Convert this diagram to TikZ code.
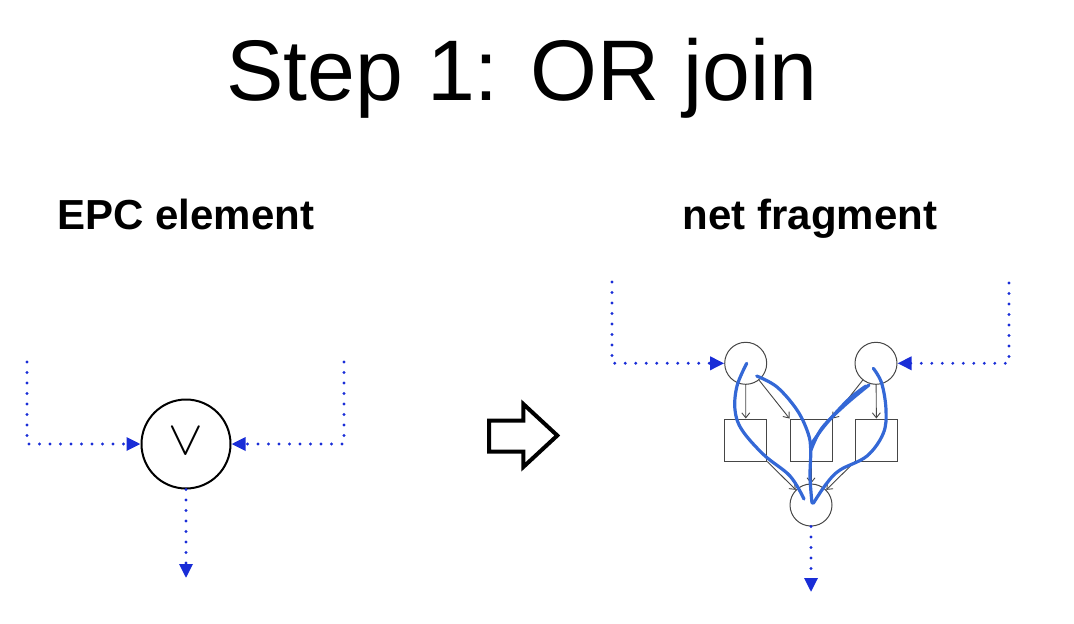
\documentclass[tikz,border=0pt]{standalone}
\usepackage{fontspec}
\usepackage{graphicx}
\setmainfont{Liberation Sans}
\usetikzlibrary{arrows.meta}
\definecolor{dotblue}{RGB}{25,45,215}
\definecolor{penblue}{RGB}{52,104,214}
\definecolor{netgray}{RGB}{70,70,70}
\tikzset{
  dotline/.style={dotblue, line width=3.2pt, line cap=round, dash pattern=on 0pt off 10.5pt,
    -{Triangle[length=14pt,width=13pt]}},
  netnode/.style={draw=netgray, line width=1pt, circle, minimum size=42pt, inner sep=0pt},
  netbox/.style={draw=netgray, line width=1pt, rectangle, minimum size=42pt, inner sep=0pt},
  netarrow/.style={netgray, line width=0.9pt, -{Straight Barb[length=5pt,width=8pt]}},
  pen/.style={penblue, line width=3.2pt, line cap=round, line join=round},
  header/.style={font=\bfseries\fontsize{42}{50}\selectfont, anchor=base}
}
\begin{document}
\begin{tikzpicture}[x=1pt,y=-1pt]
\useasboundingbox (0,0) rectangle (1074,624);
% title
\node[anchor=base, font=\fontsize{86}{100}\selectfont] (title) at (522,100) {Step 1: OR join};
\node[header] (h1) at (186,229) {EPC element};
\node[header] (h2) at (810,229) {net fragment};
% left: EPC element
\node[circle, draw, line width=2pt, minimum size=89pt, inner sep=0pt] (or) at (186,444) {};
\node[inner sep=0pt] (orlabel) at (186,441) {\scalebox{5.2}[4.8]{$\vee$}};
\coordinate (la) at (27,362);
\coordinate (ra) at (344,362);
\coordinate (oa) at (186,578);
\draw[dotline] (la) |- (or.west);
\draw[dotline] (ra) |- (or.east);
\draw[dotline] (or.south) -- (oa);
% big outline arrow
\draw[line width=4pt, line join=miter] (489,420.7) -- (523.3,420.7) -- (523.3,404) -- (557.3,435.5) -- (523.3,467) -- (523.3,451.7) -- (489,451.7) -- cycle;
% right: net fragment
\node[netnode] (p1) at (745.7,363.3) {};
\node[netnode] (p2) at (876,363.3) {};
\node[netnode] (p3) at (811,505) {};
\node[netbox] (t1) at (745.8,440) {};
\node[netbox] (t2) at (811,440) {};
\node[netbox] (t3) at (876.5,440) {};
\coordinate (lb) at (612,282);
\coordinate (rb) at (1009,283);
\coordinate (ob) at (811,592);
\draw[dotline] (lb) |- (p1.west);
\draw[dotline] (rb) |- (p2.east);
\draw[dotline] (p3.south) -- (ob);
\draw[netarrow] (p1) -- (t1);
\draw[netarrow] (p1) -- (t2.north west);
\draw[netarrow] (p2) -- (t2.north east);
\draw[netarrow] (p2) -- (t3);
\draw[netarrow] (t1.south east) -- (p3);
\draw[netarrow] (t2) -- (p3);
\draw[netarrow] (t3.south west) -- (p3);
% blue freehand strokes
\draw[pen] plot[smooth, tension=0.6] coordinates {(746.7,363.3) (737,386) (735,410) (742,430) (764,455) (790,476) (804,499)};
\draw[pen] plot[smooth, tension=0.6] coordinates {(756.7,376) (777,387) (797,410) (808,433) (810.7,450) (810,477) (812,503)};
\draw[pen] plot[smooth, tension=0.6] coordinates {(869,385) (845,405) (822,428) (811,450)};
\draw[pen] plot[smooth, tension=0.6] coordinates {(812,443) (826,424) (848,400) (866,386)};
\draw[pen] plot[smooth, tension=0.6] coordinates {(873.3,368.3) (881.7,383.3) (886,410) (883.3,433.3) (867,456) (840,470) (826.7,483.3) (813.3,503.3)};
\end{tikzpicture}
\end{document}
